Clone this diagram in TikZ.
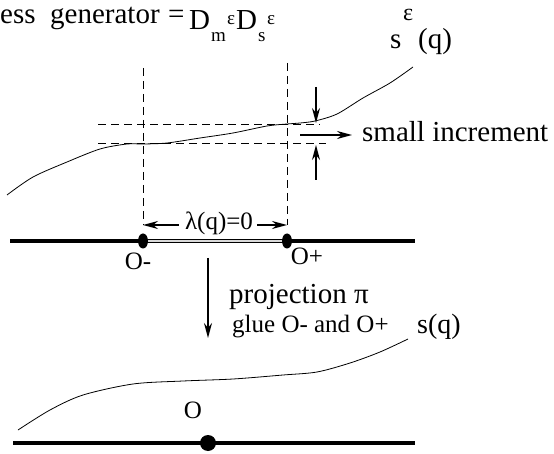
\documentclass[tikz,border=0pt]{standalone}
\usepackage{fontspec}
\setmainfont{Liberation Serif}
\usetikzlibrary{arrows.meta}
\tikzset{
  txt/.style={inner sep=0pt, anchor=base west, font=\fontsize{29}{30}\selectfont},
  smalltxt/.style={txt, font=\fontsize{25}{26}\selectfont},
  tinytxt/.style={txt, font=\fontsize{19}{20}\selectfont},
  axis/.style={line width=4pt},
  curve/.style={line width=0.8pt, smooth},
  guide/.style={line width=0.7pt, dash pattern=on 8pt off 5pt},
  arr/.style={line width=1.4pt, -{Stealth[length=15pt,width=8pt]}},
  dot/.style={fill=black}
}
\begin{document}
\begin{tikzpicture}[x=1pt,y=-1pt]
    \useasboundingbox (0,0) rectangle (554,454);
    % top formula
    \node[txt] (ess) at (0,24) {ess};
    \node[txt] (gen) at (50,24) {generator};
    \node[txt] (eq) at (168,24) {=};
    \node[txt] (d1) at (189,30) {D};
    \node[tinytxt] (m1) at (211,42) {m};
    \node[tinytxt] (e1) at (227,25) {ε};
    \node[txt] (d2) at (236,30) {D};
    \node[tinytxt] (s1) at (258,42) {s};
    \node[tinytxt] (e2) at (267,25) {ε};
    % label of the upper curve
    \node[txt, font=\fontsize{24}{25}\selectfont] (eps) at (403,21) {ε};
    \node[txt] (su) at (390,49) {s};
    \node[txt] (qu) at (418,49) {(q)};
    % guide lines
    \coordinate (om) at (143,241);
    \coordinate (op) at (287,241);
    \coordinate (lt) at (143,68);
    \coordinate (lb) at (143,225);
    \coordinate (rt) at (287,63);
    \coordinate (rb) at (287,225);
    \draw[guide] (lt) -- (lb);
    \draw[guide] (rt) -- (rb);
    \draw[guide] (98,124) -- (320,124);
    \draw[guide] (98,143) -- (326,143);
    % upper curve
    \draw[curve] plot coordinates {(7,195) (33,177) (67,162) (100,149) (127,144)
        (143,144) (167,143) (200,138) (233,133) (267,126) (287,124) (300,123)
        (315,121) (337,114) (363,98) (390,83) (413,67)};
    % small increment
    \coordinate (ua) at (316,87);
    \coordinate (ub) at (316,123);
    \coordinate (la) at (316,180);
    \coordinate (lc) at (316,145);
    \coordinate (ia) at (300,135);
    \node[txt] (inc) at (362,142) {small increment};
    \draw[arr] (ia) -- ([xshift=-10pt]inc.west |- ia);
    \draw[arr] (ua) -- (ub);
    \draw[arr] (la) -- (lc);
    % lambda
    \node[smalltxt, anchor=center] (lam) at (219,223) {λ(q)=0};
    \draw[arr] ([xshift=-6pt]lam.west |- lb) -- (lb);
    \draw[arr] ([xshift=4pt]lam.east |- rb) -- (rb);
    % upper axis
    \coordinate (axl) at (10,241);
    \coordinate (axr) at (415,241);
    \draw[axis] (axl) -- (om);
    \draw[axis] (op) -- (axr);
    \draw[line width=1pt, double=gray!30, double distance=2pt] (om) -- (op);
    \fill[dot] (om) ellipse (5 and 7.5);
    \fill[dot] (op) ellipse (5 and 7.5);
    \node[smalltxt, anchor=center] (ominus) at (138,261) {O-};
    \node[smalltxt, anchor=center] (oplus) at (307,256) {O+};
    % projection
    \coordinate (pt) at (208,258);
    \coordinate (pb) at (208,338);
    \draw[arr] (pt) -- (pb);
    \node[txt] (proj) at (229,303) {projection π};
    \node[smalltxt] (glue) at (232,332) {glue O- and O+};
    \node[txt, font=\fontsize{28}{29}\selectfont] (sq) at (417,333) {s(q)};
    % lower curve
    \draw[curve] plot coordinates {(18,430) (50,410) (83,395) (133,384) (183,381)
        (233,379) (283,375) (317,372) (350,363) (380,352) (408,339)};
    % lower axis
    \coordinate (bl) at (13,443);
    \coordinate (br) at (415,443);
    \coordinate (o) at (208,443);
    \draw[axis] (bl) -- (br);
    \fill[dot] (o) circle (8);
    \node[smalltxt, anchor=center] (olab) at (193,410) {O};
\end{tikzpicture}
\end{document}
